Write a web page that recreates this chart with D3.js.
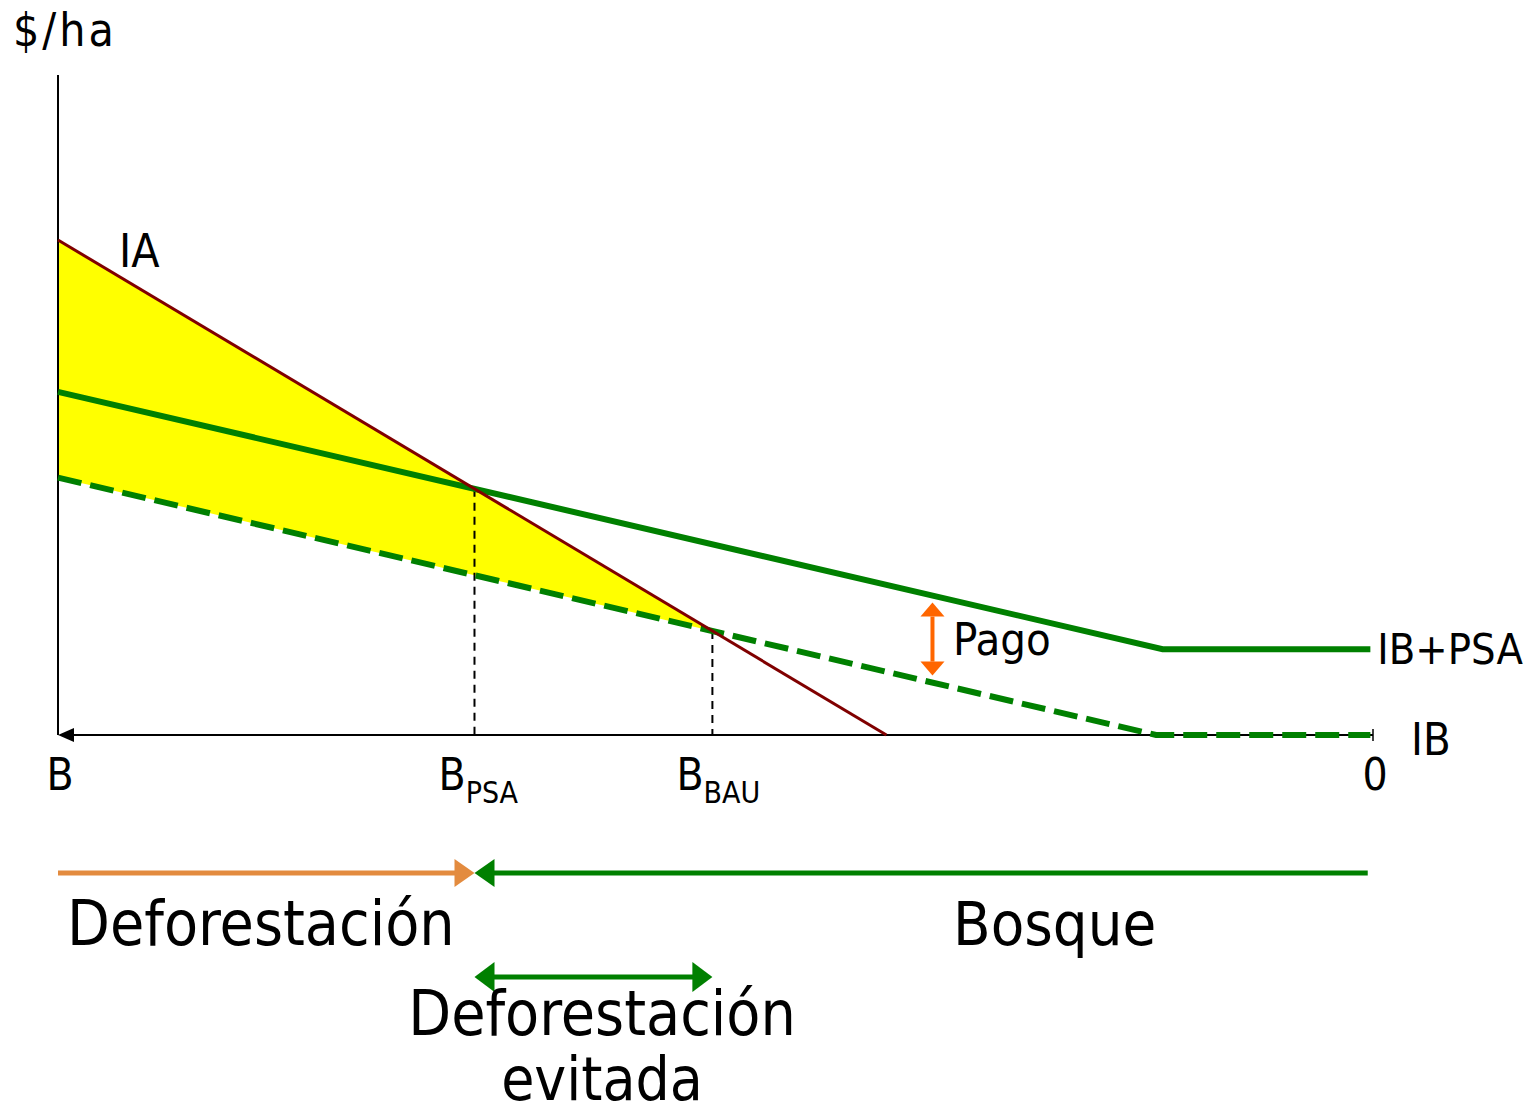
<!DOCTYPE html>
<html>
<head>
<meta charset="utf-8">
<script src="https://cdn.jsdelivr.net/npm/d3@7"></script>
<style>
  html, body { margin: 0; padding: 0; background: #fff; }
  svg { display: block; }
  text { font-family: "DejaVu Sans Condensed", "DejaVu Sans", sans-serif; fill: #000; }
</style>
</head>
<body>
<script>
// ---- Data (conceptual units: x 0 = B ... 100 = 0 ; y = $/ha) ----
const iaLine     = [[0, 75], [63, 0]];                 // IA (agricultural income)
const ibPsaLine  = [[0, 52], [84, 13], [99.8, 13]];    // IB + PSA
const ibLine     = [[0, 39], [83.5, 0], [99.8, 0]];    // IB (forest income)
const xTickLabels = [{x: 0, label: "B"}, {x: 100, label: "0"}];
const pagoX = 66.5;

// ---- Layout ----
const W = 1535, H = 1118;
const x = d3.scaleLinear().domain([0, 100]).range([58, 1373]);
const y = d3.scaleLinear().domain([0, 100]).range([735, 75]);

const svg = d3.select("body").append("svg").attr("width", W).attr("height", H);
svg.append("rect").attr("width", W).attr("height", H).attr("fill", "#fff");

// helpers
function lineAt(pts, xv) {
  for (let i = 0; i < pts.length - 1; i++) {
    const [x0, y0] = pts[i], [x1, y1] = pts[i + 1];
    if (xv >= x0 && xv <= x1) return y0 + (y1 - y0) * (xv - x0) / (x1 - x0);
  }
  return pts[pts.length - 1][1];
}
function intersect(a, b) { // first segment of each
  const [[ax0, ay0], [ax1, ay1]] = a, [[bx0, by0], [bx1, by1]] = b;
  const ma = (ay1 - ay0) / (ax1 - ax0), mb = (by1 - by0) / (bx1 - bx0);
  const xi = (by0 - ay0 + ma * ax0 - mb * bx0) / (ma - mb);
  return [xi, ay0 + ma * (xi - ax0)];
}
const pPSA = intersect(iaLine, ibPsaLine);
const pBAU = intersect(iaLine, ibLine);

const line = d3.line().x(d => x(d[0])).y(d => y(d[1]));

// yellow area between IA and IB from 0 to BBAU
const steps = d3.range(0, 41).map(i => pBAU[0] * i / 40);
const areaPts = steps.map(xv => [xv, lineAt(iaLine, xv), lineAt(ibLine, xv)]);
svg.append("path")
  .attr("d", d3.area().x(d => x(d[0])).y0(d => y(d[2])).y1(d => y(d[1]))(areaPts))
  .attr("fill", "#ffff00");

// Dashed guides
[pPSA, pBAU].forEach(p => {
  svg.append("line")
    .attr("x1", x(p[0])).attr("x2", x(p[0]))
    .attr("y1", y(p[1])).attr("y2", y(0))
    .attr("stroke", "#000").attr("stroke-width", 2).attr("stroke-dasharray", "8,6");
});

// Axes
svg.append("line").attr("x1", x(0)).attr("x2", x(0)).attr("y1", y(0)).attr("y2", y(100))
  .attr("stroke", "#000").attr("stroke-width", 2);
svg.append("line").attr("x1", x(0) + 8).attr("x2", x(100)).attr("y1", y(0)).attr("y2", y(0))
  .attr("stroke", "#000").attr("stroke-width", 2);
svg.append("path")
  .attr("d", `M${x(0)},${y(0)} l16,-7 l0,14 z`).attr("fill", "#000");
svg.append("line").attr("x1", x(100)).attr("x2", x(100)).attr("y1", y(0) - 6).attr("y2", y(0) + 6)
  .attr("stroke", "#000").attr("stroke-width", 1.5);

// Lines
svg.append("path").attr("d", line(ibLine)).attr("fill", "none")
  .attr("stroke", "#008000").attr("stroke-width", 6).attr("stroke-dasharray", "24,9");
svg.append("path").attr("d", line(ibPsaLine)).attr("fill", "none")
  .attr("stroke", "#008000").attr("stroke-width", 6);
svg.append("path").attr("d", line(iaLine)).attr("fill", "none")
  .attr("stroke", "#800000").attr("stroke-width", 3);

// Pago arrow
function vArrow(xp, ya, yb, color, w, hl, hw) {
  svg.append("line").attr("x1", xp).attr("x2", xp).attr("y1", ya + hl).attr("y2", yb - hl)
    .attr("stroke", color).attr("stroke-width", w);
  svg.append("path").attr("d", `M${xp},${ya} l${-hw/2},${hl} l${hw},0 z`).attr("fill", color);
  svg.append("path").attr("d", `M${xp},${yb} l${-hw/2},${-hl} l${hw},0 z`).attr("fill", color);
}
vArrow(x(pagoX), y(lineAt(ibPsaLine, pagoX)) + 7, y(lineAt(ibLine, pagoX)) - 7, "#ff6600", 4, 14, 24);

// Labels
svg.append("text").attr("x", 13).attr("y", 46).attr("font-size", 46).attr("letter-spacing", 3).text("$/ha");
svg.append("text").attr("x", 119).attr("y", 267).attr("font-size", 46).text("IA");
svg.append("text").attr("x", 953).attr("y", 655).attr("font-size", 45).text("Pago");
svg.append("text").attr("x", x(99.8) + 7).attr("y", y(13) + 15).attr("font-size", 43).text("IB+PSA");
svg.append("text").attr("x", 1411).attr("y", 755).attr("font-size", 45).text("IB");

xTickLabels.forEach(t => {
  svg.append("text").attr("x", x(t.x) + 2).attr("y", 790)
    .attr("text-anchor", "middle").attr("font-size", 44).text(t.label);
});
function subLabel(xv, main, sub) {
  const t = svg.append("text").attr("x", x(xv) - 36).attr("y", 790).attr("font-size", 44);
  t.append("tspan").text(main);
  t.append("tspan").attr("dy", 13).attr("font-size", 30).text(sub);
}
subLabel(pPSA[0], "B", "PSA");
subLabel(pBAU[0], "B", "BAU");

// Bottom arrows
const yA = 873, yB = 977;
function hLine(x1, x2, yy, color) {
  svg.append("line").attr("x1", x1).attr("x2", x2).attr("y1", yy).attr("y2", yy)
    .attr("stroke", color).attr("stroke-width", 5);
}
function head(xt, yy, dir, color, hl, hw) { // dir +1 pointing right, -1 pointing left
  svg.append("path").attr("d", `M${xt},${yy} l${-dir*hl},${-hw/2} l0,${hw} z`).attr("fill", color);
}
const xP = x(pPSA[0]), xB = x(pBAU[0]);
hLine(x(0), xP - 18, yA, "#e38b3f");
head(xP, yA, 1, "#e38b3f", 20, 28);
hLine(xP + 18, x(99.6), yA, "#008000");
head(xP, yA, -1, "#008000", 20, 28);

hLine(xP + 18, xB - 18, yB, "#008000");
head(xP, yB, -1, "#008000", 20, 30);
head(xB, yB, 1, "#008000", 20, 30);

svg.append("text").attr("x", 67).attr("y", 945).attr("font-size", 62).text("Deforestación");
svg.append("text").attr("x", 953).attr("y", 945).attr("font-size", 61).text("Bosque");
svg.append("text").attr("x", 602).attr("y", 1035).attr("text-anchor", "middle").attr("font-size", 62).text("Deforestación");
svg.append("text").attr("x", 602).attr("y", 1100).attr("text-anchor", "middle").attr("font-size", 60).text("evitada");
</script>
</body>
</html>
